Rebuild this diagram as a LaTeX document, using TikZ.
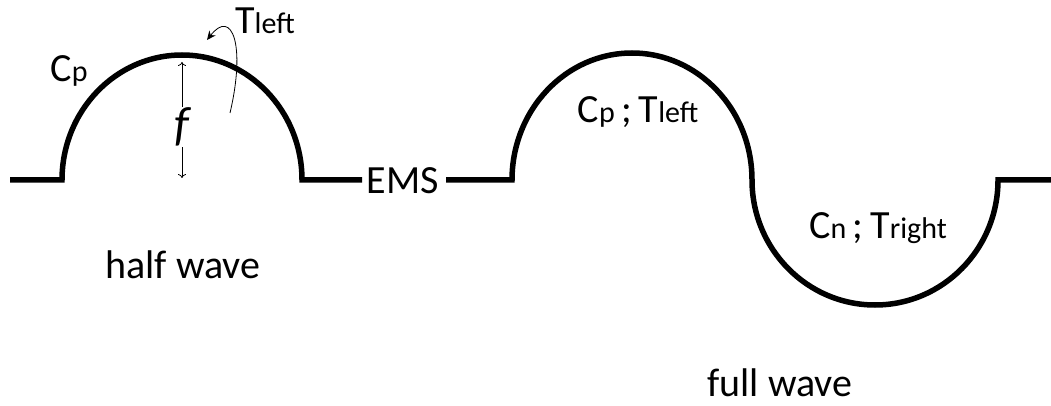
\documentclass[tikz,border=0pt]{standalone}
\usepackage{fontspec}
\setmainfont{Carlito}
\usetikzlibrary{arrows.meta}
\newcommand\lo[1]{{\fontsize{30}{30}\selectfont #1}}
\begin{document}
\begin{tikzpicture}[x=1pt,y=1pt,
  wave/.style={line width=5.5pt,line join=miter},
  lbl/.style={inner sep=0pt,font=\fontsize{40}{40}\selectfont},
  thinarrow/.style={line width=0.8pt}]
\useasboundingbox (0,0) rectangle (1051,-406);
% half wave
\coordinate (h0) at (10,-180);
\coordinate (h1) at (62,-180);
\coordinate (h2) at (362,-180);
\draw[wave] (h0) -- (h1) arc[start angle=180,end angle=0,x radius=120,y radius=125] -- (h2);
\node[lbl] (ems) at (403,-181) {EMS};
% full wave
\coordinate (f0) at (446,-180);
\coordinate (f1) at (512,-180);
\coordinate (f2) at (1051,-180);
\draw[wave] (f0) -- (f1) arc[start angle=180,end angle=0,x radius=120,y radius=127]
  arc[start angle=180,end angle=360,x radius=123,y radius=125] -- (f2);
% f arrow
\coordinate (ftop) at (182,-62);
\coordinate (fbot) at (182,-178);
\draw[thinarrow,{To[length=4pt,width=8pt]}-{To[length=4pt,width=8pt]}] (ftop) -- (fbot);
\node[fill=white,inner sep=1pt,font=\fontsize{48}{48}\selectfont] (f) at (182,-127) {\itshape f};
% torque arrow
\coordinate (ts) at (230,-113);
\coordinate (te) at (207,-40);
\draw[thinarrow,-{Stealth[length=9pt,width=8pt]}] (ts) .. controls (246,-45) and (232,-8) .. (te);
% labels
\node[lbl,anchor=base] (cp) at (69,-82) {C\lo{p}};
\node[lbl,anchor=base] (tl) at (265,-34) {T\lo{left}};
\node[lbl,anchor=base] (cptl) at (638,-123) {C\lo{p}\,;\,T\lo{left}};
\node[lbl,anchor=base] (cntr) at (878,-238) {C\lo{n}\,;\,T\lo{right}};
\node[lbl,anchor=base] (half) at (183,-278) {half wave};
\node[lbl,anchor=base] (full) at (780,-396) {full wave};
\end{tikzpicture}
\end{document}
